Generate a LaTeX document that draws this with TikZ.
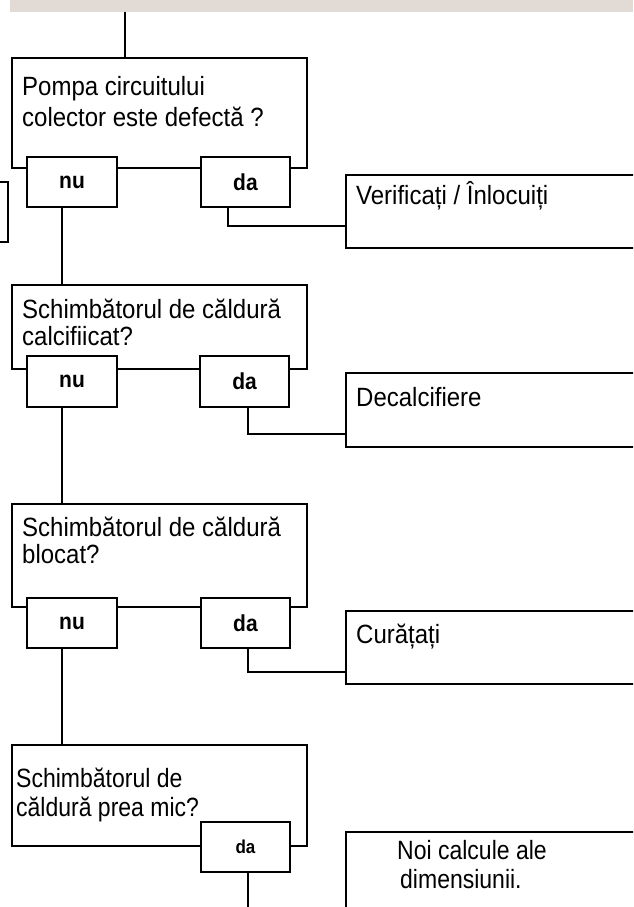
\documentclass[tikz,border=0pt]{standalone}
\usepackage{fontspec}
\setmainfont{Liberation Sans}
\definecolor{bandgray}{HTML}{E2DAD5}
\newcommand{\tall}[1]{\scalebox{1}[1.1]{#1}}
\begin{document}
\begin{tikzpicture}[x=1pt,y=-1pt,
  box/.style={draw=black,line width=2pt,fill=white,rectangle,inner sep=0pt,outer sep=0pt},
  yn/.style={box,minimum width=89pt,minimum height=50pt,font=\bfseries\fontsize{21}{21}\selectfont},
  txt/.style={anchor=base west,inner sep=0pt,font=\fontsize{24}{28}\selectfont},
  wire/.style={draw=black,line width=2pt}]
\useasboundingbox (0,0) rectangle (633,907);
\clip (0,0) rectangle (633,907);
\fill[bandgray] (10,0) rectangle (633,12);
\coordinate (top) at (125,12);
% left partial box
\node[box,minimum width=28pt,minimum height=60pt] (L) at (-6,212) {};
% decision 1
\node[box,minimum width=295pt,minimum height=110pt] (Q1) at (159.5,113) {};
\node[txt] (Q1a) at (22,95) {\tall{Pompa circuitului}};
\node[txt] (Q1b) at (22,126) {\tall{colector este defectă ?}};
\node[yn,minimum width=90pt] (nu1) at (72,182) {\tall{nu}};
\node[yn] (da1) at (245.5,182) {\tall{da}};
\node[box,minimum width=304pt,minimum height=73pt] (A1) at (498,211.5) {};
\node[txt] (A1t) at (356,204) {\tall{Verificați / Înlocuiți}};
% decision 2
\node[box,minimum width=295pt,minimum height=84pt] (Q2) at (159.5,327) {};
\node[txt] (Q2a) at (22,318) {\tall{Schimbătorul de căldură}};
\node[txt] (Q2b) at (22,345) {\tall{calcifiicat?}};
\node[yn,minimum width=90pt,minimum height=51pt] (nu2) at (72,381.5) {\tall{nu}};
\node[yn,minimum height=51pt] (da2) at (244.5,381.5) {\tall{da}};
\node[box,minimum width=304pt,minimum height=74pt] (A2) at (498,410) {};
\node[txt] (A2t) at (356,406) {\tall{Decalcifiere}};
% decision 3
\node[box,minimum width=295pt,minimum height=103pt] (Q3) at (159.5,555.5) {};
\node[txt] (Q3a) at (22,536) {\tall{Schimbătorul de căldură}};
\node[txt] (Q3b) at (22,563) {\tall{blocat?}};
\node[yn,minimum width=90pt] (nu3) at (72,623) {\tall{nu}};
\node[yn] (da3) at (245.5,623) {\tall{da}};
\node[box,minimum width=304pt,minimum height=73pt] (A3) at (498,647.5) {};
\node[txt] (A3t) at (356,643) {\tall{Curățați}};
% decision 4
\node[box,minimum width=295pt,minimum height=101pt] (Q4) at (159.5,795.5) {};
\node[txt,font=\fontsize{23}{28}\selectfont] (Q4a) at (16,787) {\scalebox{1}[1.15]{Schimbătorul de}};
\node[txt,font=\fontsize{23}{28}\selectfont] (Q4b) at (16,816) {\scalebox{1}[1.15]{căldură prea mic?}};
\node[yn,font=\bfseries\fontsize{17}{17}\selectfont] (da4) at (245.5,847) {\tall{da}};
\node[box,minimum width=304pt,minimum height=100pt] (A4) at (498,882) {};
\node[txt,font=\fontsize{23}{28}\selectfont] (A4a) at (397,859) {\scalebox{1}[1.15]{Noi calcule ale}};
\node[txt,font=\fontsize{23}{28}\selectfont] (A4b) at (400,888) {\scalebox{1}[1.15]{dimensiunii.}};
\coordinate (end4) at (248,907);
% connectors
\draw[wire] (top) -- (top |- Q1.north);
\draw[wire] ([xshift=-10pt]nu1.south) -- ([xshift=-10pt]nu1.south |- Q2.north);
\draw[wire] ([xshift=-17.5pt]da1.south) |- ([yshift=-14.5pt]A1.west);
\draw[wire] ([xshift=-10pt]nu2.south) -- ([xshift=-10pt]nu2.south |- Q3.north);
\draw[wire] ([xshift=3.5pt]da2.south) |- ([yshift=-24pt]A2.west);
\draw[wire] ([xshift=-10pt]nu3.south) -- ([xshift=-10pt]nu3.south |- Q4.north);
\draw[wire] ([xshift=2.5pt]da3.south) |- ([yshift=-24.5pt]A3.west);
\draw[wire] ([xshift=2.5pt]da4.south) -- (end4);
\end{tikzpicture}
\end{document}
